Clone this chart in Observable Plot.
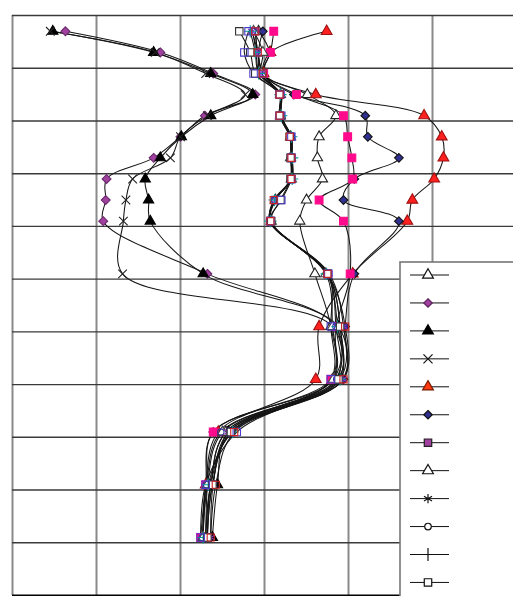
<!DOCTYPE html>
<html><head><meta charset="utf-8">
<script src="https://cdn.jsdelivr.net/npm/d3@7"></script>
<script src="https://cdn.jsdelivr.net/npm/@observablehq/plot@0.6"></script>
<style>
body{margin:0;background:#fff;font-family:"Liberation Sans",Arial,sans-serif;}
#wrap{position:relative;width:513px;height:596px;overflow:hidden;}
#legend{position:absolute;left:399px;top:261px;}
</style>
</head><body><div id="wrap"></div>
<script>
// depth levels (y) shared by every profile
const depths = [0.3,0.7,1.1,1.5,1.9,2.3,2.7,3.1,3.5,3.9,4.9,5.9,6.9,7.9,8.9,9.9];
const xGrid = [0,1,2,3,4,5];
const yGrid = [0,1,2,3,4,5,6,7,8,9,10,11];

// profile values (x) per series, one per depth level
const openTriangleA = [2.93,3.06,2.98,3.51,3.85,3.65,3.63,3.69,3.50,3.42,3.60,3.79,3.81,2.54,2.36,2.30];
const purpleDiamond = [0.63,1.76,2.39,2.89,2.29,2.00,1.68,1.12,1.11,1.08,2.32,3.85,3.82,2.39,2.32,2.30];
const blackTriangle = [0.48,1.68,2.36,2.86,2.36,2.01,1.76,1.58,1.62,1.64,2.27,3.88,3.90,2.57,2.44,2.38];
const crossSeries   = [0.45,1.70,2.30,2.77,2.32,2.00,1.88,1.43,1.35,1.32,1.31,3.81,3.85,2.54,2.36,2.32];
const redTriangle   = [3.74,3.07,2.99,3.61,4.90,5.11,5.13,5.02,4.76,4.70,4.05,3.65,3.61,2.45,2.30,2.27];
const navyDiamond   = [2.98,2.93,2.98,3.35,4.20,4.23,4.60,4.07,3.94,4.60,4.07,3.96,3.94,2.60,2.36,2.30];
const purpleSquare  = [2.89,2.92,2.98,3.19,3.20,3.31,3.32,3.32,3.13,3.07,3.75,3.90,3.88,2.60,2.38,2.32];
const openTriangleB = [2.87,2.98,2.96,3.19,3.19,3.31,3.31,3.32,3.13,3.08,3.73,3.81,3.82,2.50,2.32,2.27];
const asteriskSeries= [2.85,2.92,2.95,3.20,3.19,3.31,3.32,3.31,3.13,3.06,3.77,3.94,3.93,2.57,2.39,2.36];
const circleSeries  = [2.86,2.90,2.94,3.19,3.19,3.32,3.32,3.32,3.12,3.07,3.75,3.85,3.86,2.48,2.31,2.26];
const plusSeries    = [2.83,2.89,2.93,3.19,3.20,3.32,3.33,3.33,3.12,3.07,3.74,3.87,3.90,2.62,2.33,2.27];
const openSquare    = [2.70,2.83,2.89,3.18,3.18,3.30,3.31,3.31,3.19,3.08,3.75,3.90,3.88,2.60,2.38,2.32];
const blueSquare    = [2.81,2.76,2.87,3.18,3.18,3.32,3.32,3.32,3.20,3.07,3.76,3.79,3.79,2.67,2.30,2.24];
const redOpenSquare = [2.89,2.92,2.98,3.18,3.18,3.30,3.32,3.32,3.11,3.07,3.75,3.96,3.94,2.64,2.42,2.36];
const pinkSquare    = [3.11,3.07,2.99,3.38,3.94,3.99,4.04,4.05,3.65,3.94,4.02,3.85,3.79,2.39,2.30,2.24];

// style per series, in drawing order
const series = [
  {values: openTriangleA, symbol:"triangle", fill:"white", stroke:"#222", r:3.8},
  {values: purpleDiamond, symbol:"diamond2", fill:"#a0409f", stroke:"#6a2a6a", r:4},
  {values: blackTriangle, symbol:"triangle", fill:"#000", stroke:"#000", r:3.8},
  {values: crossSeries,   symbol:"times", fill:"none", stroke:"#222", r:4},
  {values: redTriangle,   symbol:"triangle", fill:"#ff2020", stroke:"#a01010", r:4},
  {values: navyDiamond,   symbol:"diamond2", fill:"#303090", stroke:"#111", r:3.9},
  {values: pinkSquare,    symbol:"square", fill:"#ff0a8c", stroke:"#ff0a8c", r:4.4},
  {values: purpleSquare,  symbol:"square", fill:"#a0409f", stroke:"#4040c0", r:4.2},
  {values: openTriangleB, symbol:"triangle", fill:"white", stroke:"#444", r:3.8},
  {values: asteriskSeries,symbol:"asterisk", fill:"none", stroke:"#9933cc", r:4.2},
  {values: circleSeries,  symbol:"circle", fill:"none", stroke:"#333399", r:3.2},
  {values: plusSeries,    symbol:"plus", fill:"none", stroke:"#009999", r:4},
  {values: openSquare,    symbol:"square", fill:"white", stroke:"#333", r:4.2},
  {values: blueSquare,    symbol:"square", fill:"none", stroke:"#4a3ccc", r:4.2},
  {values: redOpenSquare, symbol:"square", fill:"none", stroke:"#cc2222", r:4.0}
];

const lineMarks = [], dotMarks = [];
series.forEach((s, i) => {
  const data = depths.map((d, j) => ({depth: d, value: s.values[j]}));
  lineMarks.push(Plot.line(data, {x:"value", y:"depth", curve:"catmull-rom", stroke:"#151515", strokeWidth:1.05}));
  dotMarks.push(Plot.dot(data, {x:"value", y:"depth", symbol: s.symbol, fill: s.fill, stroke: s.stroke, strokeWidth:1.1, r: s.r}));
});

const chart = Plot.plot({
  width: 513, height: 596,
  marginLeft: 12, marginRight: 0, marginTop: 15, marginBottom: 1,
  x: {domain: [0, 501/84], axis: null},
  y: {domain: [0, 11], reverse: true, axis: null},
  style: {background: "white", overflow: "visible"},
  marks: [
    Plot.ruleX(xGrid, {stroke:"#8a8a8a", strokeWidth:2}),
    Plot.ruleY(yGrid.slice(0, -1), {stroke:"#3a3a3a", strokeWidth:1.4}),
    Plot.ruleY(yGrid.slice(-1), {stroke:"#000", strokeWidth:2}),
    ...lineMarks,
    ...dotMarks
  ]
});
document.getElementById("wrap").appendChild(chart);

// legend overlay (box partly outside the visible area, as in the reference)
const symbolTypes = {triangle:d3.symbolTriangle, diamond2:d3.symbolDiamond2, times:d3.symbolTimes,
  square:d3.symbolSquare, asterisk:d3.symbolAsterisk, circle:d3.symbolCircle, plus:d3.symbolPlus};
const legendStyles = [
  {symbol:"triangle", fill:"white", stroke:"#111", r:4},
  {symbol:"diamond2", fill:"#a0409f", stroke:"#5a225a", r:3.8},
  {symbol:"triangle", fill:"#000", stroke:"#000", r:4},
  {symbol:"times", fill:"none", stroke:"#111", r:4.2},
  {symbol:"triangle", fill:"#ff3a10", stroke:"#7a1a00", r:4},
  {symbol:"diamond2", fill:"#303090", stroke:"#111", r:3.8},
  {symbol:"square", fill:"#a0409f", stroke:"#222", r:4.2},
  {symbol:"triangle", fill:"white", stroke:"#111", r:4},
  {symbol:"asterisk", fill:"none", stroke:"#111", r:4.4},
  {symbol:"circle", fill:"white", stroke:"#111", r:3.3},
  {symbol:"plus", fill:"none", stroke:"#111", r:4.2},
  {symbol:"square", fill:"white", stroke:"#111", r:4.2}
];
const lsvg = d3.select("#wrap").append("svg").attr("id","legend").attr("width",130).attr("height",345);
lsvg.append("rect").attr("x",1).attr("y",1).attr("width",140).attr("height",360)
  .attr("fill","white").attr("stroke","#777").attr("stroke-width",1.6);
legendStyles.forEach((st, i) => {
  const cy = 14 + i*27.95;
  lsvg.append("line").attr("x1",11).attr("x2",50).attr("y1",cy).attr("y2",cy)
    .attr("stroke","#111").attr("stroke-width",1);
  lsvg.append("path").attr("transform",`translate(29,${cy})`)
    .attr("d", d3.symbol(symbolTypes[st.symbol], st.r*st.r*Math.PI)())
    .attr("fill", st.fill).attr("stroke", st.stroke).attr("stroke-width",1.2);
});
</script>
</body></html>
